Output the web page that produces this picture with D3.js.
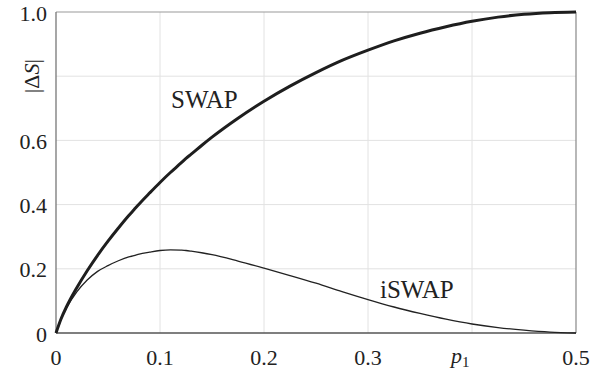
<!DOCTYPE html>
<html>
<head>
<meta charset="utf-8">
<script src="https://cdn.jsdelivr.net/npm/d3@7.8.5/dist/d3.min.js"></script>
<style>
  html, body { margin: 0; padding: 0; background: #fff; }
</style>
</head>
<body>
<div id="chart"></div>
<script>
// values
const pValues = [0, 0.005, 0.01, 0.02, 0.03, 0.04, 0.05, 0.06, 0.07, 0.075, 0.08, 0.09,
  0.1, 0.11, 0.12, 0.125, 0.13, 0.14, 0.15, 0.175, 0.2, 0.225, 0.25, 0.275, 0.3,
  0.325, 0.35, 0.375, 0.4, 0.425, 0.45, 0.475, 0.5];
const swapValues = [0, 0.045, 0.081, 0.141, 0.194, 0.242, 0.286, 0.327, 0.366, 0.384, 0.402, 0.436,
  0.469, 0.500, 0.529, 0.544, 0.557, 0.584, 0.610, 0.669, 0.722, 0.769, 0.811, 0.849, 0.881,
  0.910, 0.934, 0.954, 0.971, 0.984, 0.993, 0.998, 1.0];
const iswapValues = [0, 0.044, 0.077, 0.128, 0.165, 0.192, 0.210, 0.225, 0.237, 0.241, 0.246, 0.252,
  0.257, 0.259, 0.258, 0.257, 0.255, 0.250, 0.244, 0.224, 0.202, 0.179, 0.155, 0.129, 0.104,
  0.081, 0.061, 0.043, 0.028, 0.017, 0.009, 0.003, 0];
const xTicks = [0, 0.1, 0.2, 0.3, 0.5];
const xGrid = [0.1, 0.2, 0.3, 0.4];
const yTicks = [0, 0.2, 0.4, 0.6, 1.0];
const yGrid = [0.2, 0.4, 0.6, 0.8];

const W = 615, H = 376;
const M = { left: 56, right: 39, top: 12, bottom: 43 };
const FONT = "'Liberation Serif', 'Times New Roman', serif";

const svg = d3.select("#chart").append("svg")
  .attr("width", W).attr("height", H)
  .style("font-family", FONT);

const x = d3.scaleLinear().domain([0, 0.5]).range([M.left, W - M.right]);
const y = d3.scaleLinear().domain([0, 1]).range([H - M.bottom, M.top]);

// grid
svg.append("g").selectAll("line").data(xGrid).join("line")
  .attr("x1", d => x(d)).attr("x2", d => x(d))
  .attr("y1", y(0)).attr("y2", y(1))
  .attr("stroke", "#e2e2e2").attr("stroke-width", 1);
svg.append("g").selectAll("line").data(yGrid).join("line")
  .attr("x1", x(0)).attr("x2", x(0.5))
  .attr("y1", d => y(d)).attr("y2", d => y(d))
  .attr("stroke", "#e2e2e2").attr("stroke-width", 1);

// frame: top/right lighter, left/bottom darker
svg.append("line").attr("x1", x(0)).attr("x2", x(0.5)).attr("y1", y(1)).attr("y2", y(1))
  .attr("stroke", "#999").attr("stroke-width", 1.2);
svg.append("line").attr("x1", x(0.5)).attr("x2", x(0.5)).attr("y1", y(0)).attr("y2", y(1))
  .attr("stroke", "#888").attr("stroke-width", 1.2);
svg.append("line").attr("x1", x(0)).attr("x2", x(0)).attr("y1", y(0)).attr("y2", y(1))
  .attr("stroke", "#777").attr("stroke-width", 1.3);
svg.append("line").attr("x1", x(0)).attr("x2", x(0.5)).attr("y1", y(0)).attr("y2", y(0))
  .attr("stroke", "#555").attr("stroke-width", 1.5);

// curves
const line = vals => d3.line()
  .x((d, i) => x(pValues[i]))
  .y(d => y(d))
  .curve(d3.curveMonotoneX)(vals);

svg.append("path").attr("d", line(iswapValues))
  .attr("fill", "none").attr("stroke", "#222").attr("stroke-width", 1.3);
svg.append("path").attr("d", line(swapValues))
  .attr("fill", "none").attr("stroke", "#1e1e1e").attr("stroke-width", 3);

const fmt = d => d === 0 ? "0" : d3.format(".1f")(d);

// tick labels
svg.append("g").selectAll("text").data(xTicks).join("text")
  .attr("x", d => x(d)).attr("y", 365)
  .attr("text-anchor", "middle")
  .attr("fill", "#222")
  .style("font-size", "22px")
  .text(fmt);
svg.append("g").selectAll("text").data(yTicks).join("text")
  .attr("x", 47).attr("y", d => y(d) + 8.5)
  .attr("text-anchor", "end")
  .attr("fill", "#222")
  .style("font-size", "22px")
  .text(fmt);

// axis titles
const yl = svg.append("text")
  .attr("transform", `translate(39,${y(0.8)}) rotate(-90)`)
  .attr("text-anchor", "middle")
  .attr("fill", "#222")
  .style("font-size", "22px");
yl.append("tspan").text("|Δ");
yl.append("tspan").style("font-style", "italic").text("S");
yl.append("tspan").text("|");

const xl = svg.append("text")
  .attr("x", 451).attr("y", 363)
  .attr("fill", "#222")
  .style("font-size", "22px");
xl.append("tspan").style("font-style", "italic").text("p");
xl.append("tspan").attr("dy", 4).style("font-size", "15px").text("1");

// curve labels
svg.append("text").attr("x", 171).attr("y", 108)
  .attr("fill", "#222")
  .style("font-size", "25px").text("SWAP");
svg.append("text").attr("x", 380).attr("y", 298)
  .attr("fill", "#222")
  .style("font-size", "25px").text("iSWAP");
</script>
</body>
</html>
